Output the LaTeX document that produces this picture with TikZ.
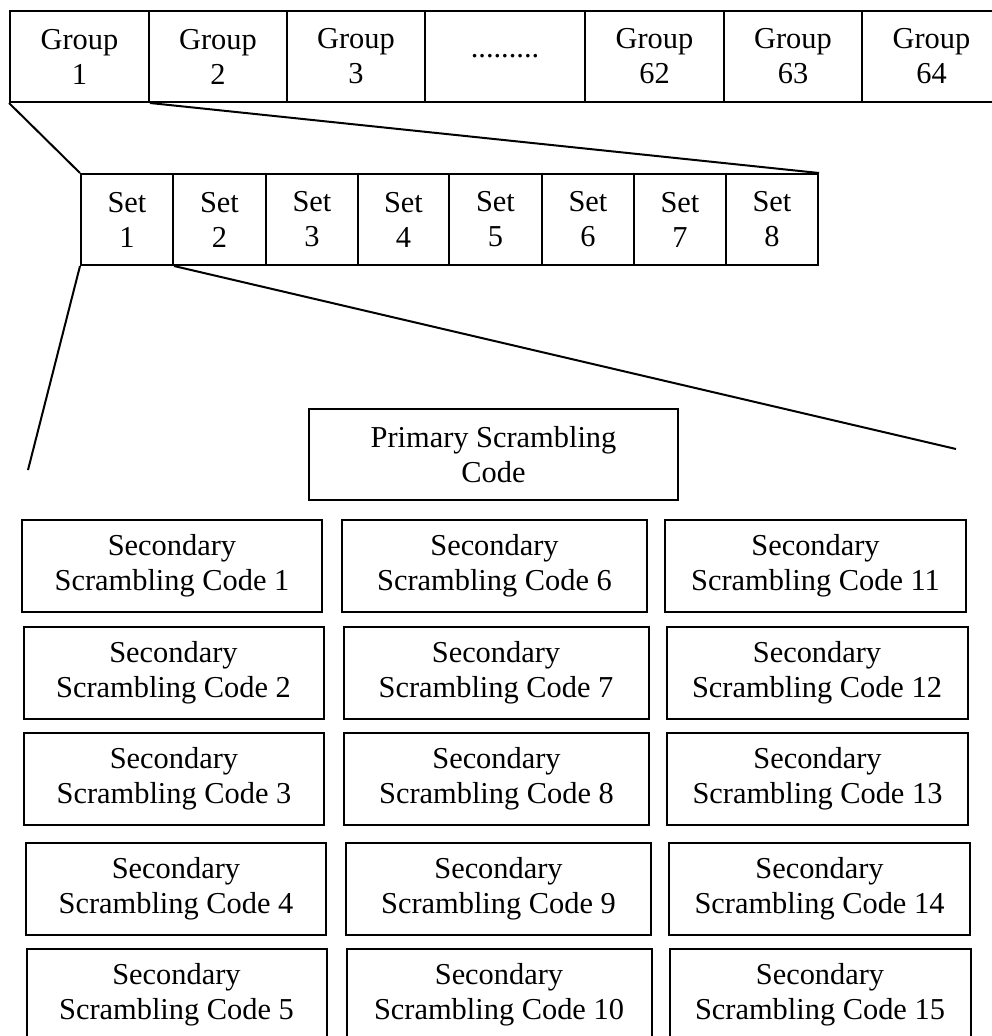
\documentclass[tikz,border=0pt]{standalone}
\usepackage{fontspec}
\setmainfont{Liberation Serif}
\begin{document}
\begin{tikzpicture}[x=1pt,y=-1pt,
  cell/.style={draw, line width=2pt, inner sep=0pt, anchor=north west, align=center,
    font=\fontsize{30.4}{35}\selectfont},
  link/.style={line width=2pt}]
\useasboundingbox (0,0) rectangle (992,1036);
% groups
\node[cell, minimum width=139pt, minimum height=91pt] (g1) at (9,10) {Group\\1};
\node[cell, minimum width=138pt, minimum height=91pt] (g2) at (148,10) {Group\\2};
\node[cell, minimum width=138pt, minimum height=91pt] (g3) at (286,10) {Group\\3};
\node[cell, minimum width=160pt, minimum height=91pt] (gdots) at (424,10) {.........};
\node[cell, minimum width=139pt, minimum height=91pt] (g62) at (584,10) {Group\\62};
\node[cell, minimum width=138pt, minimum height=91pt] (g63) at (723,10) {Group\\63};
\node[cell, minimum width=139pt, minimum height=91pt] (g64) at (861,10) {Group\\64};
% sets
\foreach \i/\xa/\w in {1/80/92, 2/172/93, 3/265/92, 4/357/91, 5/448/93, 6/541/92, 7/633/92, 8/725/92}
  \node[cell, minimum width=\w pt, minimum height=91pt] (set\i) at (\xa,173) {Set\\\i};
% primary
\node[cell, minimum width=369pt, minimum height=91pt] (prim) at (308,408) {Primary Scrambling\\Code};
% secondary
\foreach \r/\ya/\dx in {1/519/0, 2/626/1.5, 3/732/2, 4/842/4, 5/948/4.5}
  \foreach \c/\xa/\w in {1/21/300, 2/341/305, 3/664/301} {
    \pgfmathtruncatemacro{\n}{(\c-1)*5+\r}
    \node[cell, minimum width=\w pt, minimum height=92pt] (s\n) at (\xa+\dx,\ya) {Secondary\\Scrambling Code \n};
  }
% connectors
\coordinate (L) at (28,470);
\coordinate (R) at (956,449);
\draw[link] (g1.south west) -- (set1.north west);
\draw[link] (g1.south east) -- (set8.north east);
\draw[link] (set1.south west) -- (L);
\draw[link] (set1.south east) -- (R);
\end{tikzpicture}
\end{document}
